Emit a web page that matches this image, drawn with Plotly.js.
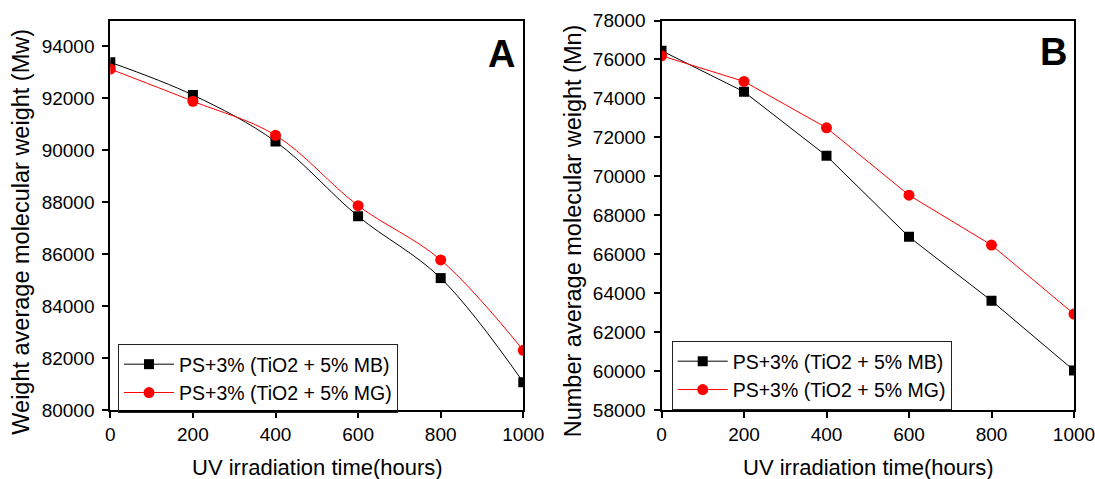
<!DOCTYPE html>
<html>
<head>
<meta charset="utf-8">
<script src="https://cdn.plot.ly/plotly-3.0.1.min.js"></script>
<style>html,body{margin:0;padding:0;background:#fff;}#chart{width:1095px;height:479px;}</style>
</head>
<body>
<div id="chart"></div>
<script>
// Data
const hours = [0, 200, 400, 600, 800, 1000];
const mwMB = [93390, 92130, 90340, 87460, 85080, 81070];
const mwMG = [93130, 91890, 90580, 87870, 85780, 82300];
const mnMB = [76450, 74340, 71050, 66890, 63610, 60030];
const mnMG = [76190, 74870, 72490, 69030, 66470, 62930];
const nameMB = 'PS+3% (TiO2 + 5% MB)';
const nameMG = 'PS+3% (TiO2 + 5% MG)';
const tickA = [80000, 82000, 84000, 86000, 88000, 90000, 92000, 94000];
const tickB = [58000, 60000, 62000, 64000, 66000, 68000, 70000, 72000, 74000, 76000, 78000];
const tickX = [0, 200, 400, 600, 800, 1000];

const FONT = 'Liberation Sans, Arial, Helvetica, sans-serif';
const W = 1095, H = 479;
const px = v => v / W;
const py = v => 1 - v / H;

function tr(x, y, name, color, symbol, size, xa, ya, legend, shape) {
  return {
    x: x, y: y, name: name, type: 'scatter', mode: 'lines+markers',
    xaxis: xa, yaxis: ya, legend: legend,
    line: {color: color, width: 1, shape: shape},
    marker: {color: color, symbol: symbol, size: size}
  };
}

const data = [
  tr(hours, mwMB, nameMB, '#000000', 'square', 10, 'x', 'y', 'legend', 'spline'),
  tr(hours, mwMG, nameMG, '#ff0000', 'circle', 11, 'x', 'y', 'legend', 'spline'),
  tr(hours, mnMB, nameMB, '#000000', 'square', 10, 'x2', 'y2', 'legend2', 'linear'),
  tr(hours, mnMG, nameMG, '#ff0000', 'circle', 11, 'x2', 'y2', 'legend2', 'linear')
];

const axisCommon = {
  showline: true, linecolor: '#000', linewidth: 2, mirror: true,
  ticks: 'outside', ticklen: 6, tickwidth: 2, tickcolor: '#000',
  showgrid: false, zeroline: false, fixedrange: true,
  ticklabeloverflow: 'allow',
  tickfont: {family: FONT, size: 19, color: '#000'}
};
const yDom = [py(410), py(20.5)];

const legendCommon = {
  bgcolor: 'rgba(255,255,255,0)', bordercolor: '#222', borderwidth: 1,
  font: {family: FONT, size: 19.5, color: '#000'},
  xanchor: 'left', yanchor: 'top', tracegroupgap: 0, itemwidth: 50
};

function ann(text, x, y, size, angle, bold) {
  return {
    text: bold ? '<b>' + text + '</b>' : text,
    xref: 'paper', yref: 'paper', x: x, y: y,
    xanchor: 'center', yanchor: 'middle', showarrow: false,
    textangle: angle, font: {family: FONT, size: size, color: '#000'}
  };
}

const layout = {
  width: W, height: H,
  margin: {l: 0, r: 0, t: 0, b: 0},
  paper_bgcolor: '#fff', plot_bgcolor: '#fff',
  showlegend: true,
  xaxis: Object.assign({}, axisCommon, {domain: [px(110.3), px(523.3)], range: [0, 1000], tickvals: tickX, anchor: 'y'}),
  yaxis: Object.assign({}, axisCommon, {domain: yDom, range: [80000, 95000], tickvals: tickA, tickformat: 'd', anchor: 'x', ticklabelstandoff: 4}),
  xaxis2: Object.assign({}, axisCommon, {domain: [px(661.5), px(1074)], range: [0, 1000], tickvals: tickX, anchor: 'y2'}),
  yaxis2: Object.assign({}, axisCommon, {domain: yDom, range: [58000, 78000], tickvals: tickB, tickformat: 'd', anchor: 'x2', ticklabelstandoff: 4}),
  legend: Object.assign({}, legendCommon, {x: px(118), y: py(344)}),
  legend2: Object.assign({}, legendCommon, {x: px(671.7), y: py(341)}),
  annotations: [
    ann('UV irradiation time(hours)', px(317), py(467), 22, 0, false),
    ann('UV irradiation time(hours)', px(868), py(467), 22, 0, false),
    ann('Weight average molecular weight (Mw)', px(21), py(231.7), 23.5, -90, false),
    ann('Number average molecular weight (Mn)', px(573), py(231.3), 23.5, -90, false),
    ann('A', px(501), py(53.5), 38, 0, true),
    ann('B', px(1053.3), py(51.8), 38, 0, true)
  ]
};

Plotly.newPlot('chart', data, layout, {displayModeBar: false, staticPlot: true});
</script>
</body>
</html>
